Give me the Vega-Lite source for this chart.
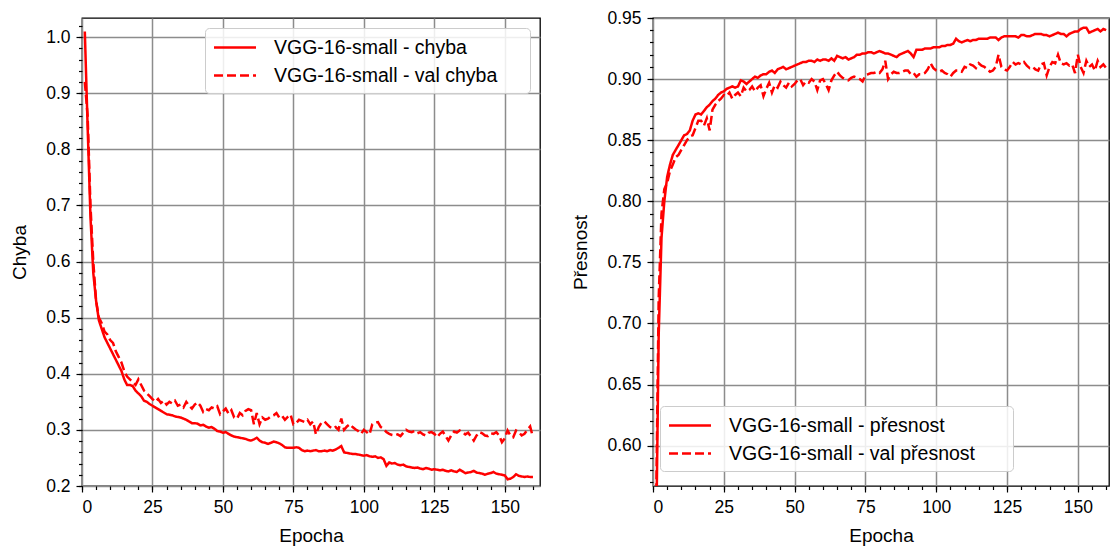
{
"$schema": "https://vega.github.io/schema/vega-lite/v6.json",
"background": "white",
"padding": {"left": 10, "top": 8, "right": 2, "bottom": 0},
"datasets": {"h": [
{"e":1,"c":1.01,"vc":0.92,"p":0.5,"vp":0.53},
{"e":2,"c":0.84,"vc":0.86,"p":0.69,"vp":0.72},
{"e":3,"c":0.68,"vc":0.7,"p":0.77,"vp":0.79},
{"e":4,"c":0.58,"vc":0.6,"p":0.8,"vp":0.81},
{"e":5,"c":0.53,"vc":0.53,"p":0.82,"vp":0.815},
{"e":6,"c":0.495,"vc":0.5,"p":0.83,"vp":0.825},
{"e":7,"c":0.48,"vc":0.49,"p":0.838,"vp":0.83},
{"e":8,"c":0.465,"vc":0.475,"p":0.842,"vp":0.836},
{"e":9,"c":0.455,"vc":0.47,"p":0.846,"vp":0.838},
{"e":10,"c":0.445,"vc":0.46,"p":0.85,"vp":0.842},
{"e":11,"c":0.435,"vc":0.455,"p":0.854,"vp":0.846},
{"e":12,"c":0.425,"vc":0.44,"p":0.855,"vp":0.85},
{"e":13,"c":0.415,"vc":0.43,"p":0.858,"vp":0.853},
{"e":14,"c":0.405,"vc":0.42,"p":0.866,"vp":0.854},
{"e":15,"c":0.39,"vc":0.405,"p":0.871,"vp":0.86},
{"e":16,"c":0.38,"vc":0.395,"p":0.872,"vp":0.866},
{"e":17,"c":0.38,"vc":0.39,"p":0.871,"vp":0.866},
{"e":18,"c":0.378,"vc":0.385,"p":0.874,"vp":0.862},
{"e":19,"c":0.37,"vc":0.38,"p":0.877,"vp":0.868},
{"e":20,"c":0.365,"vc":0.39,"p":0.879,"vp":0.858},
{"e":21,"c":0.36,"vc":0.38,"p":0.882,"vp":0.875},
{"e":22,"c":0.352,"vc":0.37,"p":0.884,"vp":0.879},
{"e":23,"c":0.35,"vc":0.365,"p":0.887,"vp":0.882},
{"e":24,"c":0.346,"vc":0.36,"p":0.889,"vp":0.884},
{"e":25,"c":0.343,"vc":0.355,"p":0.89,"vp":0.887},
{"e":26,"c":0.34,"vc":0.35,"p":0.892,"vp":0.886},
{"e":27,"c":0.337,"vc":0.355,"p":0.893,"vp":0.889},
{"e":28,"c":0.334,"vc":0.348,"p":0.894,"vp":0.884},
{"e":29,"c":0.331,"vc":0.352,"p":0.893,"vp":0.887},
{"e":30,"c":0.328,"vc":0.345,"p":0.894,"vp":0.889},
{"e":31,"c":0.327,"vc":0.35,"p":0.899,"vp":0.886},
{"e":32,"c":0.326,"vc":0.347,"p":0.898,"vp":0.893},
{"e":33,"c":0.324,"vc":0.352,"p":0.896,"vp":0.89},
{"e":34,"c":0.323,"vc":0.343,"p":0.898,"vp":0.891},
{"e":35,"c":0.322,"vc":0.345,"p":0.9,"vp":0.894},
{"e":36,"c":0.32,"vc":0.34,"p":0.902,"vp":0.89},
{"e":37,"c":0.318,"vc":0.35,"p":0.901,"vp":0.893},
{"e":38,"c":0.315,"vc":0.343,"p":0.903,"vp":0.895},
{"e":39,"c":0.312,"vc":0.338,"p":0.904,"vp":0.886},
{"e":40,"c":0.312,"vc":0.345,"p":0.904,"vp":0.892},
{"e":41,"c":0.311,"vc":0.349,"p":0.906,"vp":0.897},
{"e":42,"c":0.308,"vc":0.343,"p":0.907,"vp":0.889},
{"e":43,"c":0.309,"vc":0.332,"p":0.905,"vp":0.895},
{"e":44,"c":0.306,"vc":0.337,"p":0.908,"vp":0.893},
{"e":45,"c":0.304,"vc":0.335,"p":0.909,"vp":0.898},
{"e":46,"c":0.305,"vc":0.34,"p":0.91,"vp":0.895},
{"e":47,"c":0.302,"vc":0.338,"p":0.908,"vp":0.893},
{"e":48,"c":0.298,"vc":0.342,"p":0.909,"vp":0.897},
{"e":49,"c":0.297,"vc":0.328,"p":0.91,"vp":0.894},
{"e":50,"c":0.295,"vc":0.333,"p":0.911,"vp":0.896},
{"e":51,"c":0.296,"vc":0.338,"p":0.912,"vp":0.899},
{"e":52,"c":0.293,"vc":0.329,"p":0.913,"vp":0.9},
{"e":53,"c":0.29,"vc":0.335,"p":0.914,"vp":0.895},
{"e":54,"c":0.288,"vc":0.322,"p":0.914,"vp":0.898},
{"e":55,"c":0.287,"vc":0.32,"p":0.915,"vp":0.897},
{"e":56,"c":0.286,"vc":0.33,"p":0.915,"vp":0.9},
{"e":57,"c":0.285,"vc":0.326,"p":0.914,"vp":0.898},
{"e":58,"c":0.284,"vc":0.334,"p":0.916,"vp":0.891},
{"e":59,"c":0.282,"vc":0.337,"p":0.915,"vp":0.899},
{"e":60,"c":0.281,"vc":0.335,"p":0.916,"vp":0.9},
{"e":61,"c":0.283,"vc":0.31,"p":0.916,"vp":0.896},
{"e":62,"c":0.286,"vc":0.33,"p":0.915,"vp":0.891},
{"e":63,"c":0.281,"vc":0.31,"p":0.917,"vp":0.899},
{"e":64,"c":0.278,"vc":0.322,"p":0.915,"vp":0.903},
{"e":65,"c":0.277,"vc":0.318,"p":0.919,"vp":0.906},
{"e":66,"c":0.275,"vc":0.32,"p":0.918,"vp":0.903},
{"e":67,"c":0.277,"vc":0.324,"p":0.917,"vp":0.901},
{"e":68,"c":0.279,"vc":0.326,"p":0.918,"vp":0.9},
{"e":69,"c":0.278,"vc":0.33,"p":0.916,"vp":0.899},
{"e":70,"c":0.276,"vc":0.322,"p":0.917,"vp":0.901},
{"e":71,"c":0.273,"vc":0.325,"p":0.918,"vp":0.902},
{"e":72,"c":0.269,"vc":0.318,"p":0.92,"vp":0.901},
{"e":73,"c":0.268,"vc":0.323,"p":0.92,"vp":0.9},
{"e":74,"c":0.268,"vc":0.327,"p":0.921,"vp":0.898},
{"e":75,"c":0.268,"vc":0.31,"p":0.921,"vp":0.903},
{"e":76,"c":0.269,"vc":0.312,"p":0.922,"vp":0.904},
{"e":77,"c":0.268,"vc":0.318,"p":0.922,"vp":0.905},
{"e":78,"c":0.264,"vc":0.316,"p":0.921,"vp":0.905},
{"e":79,"c":0.262,"vc":0.314,"p":0.922,"vp":0.906},
{"e":80,"c":0.263,"vc":0.318,"p":0.923,"vp":0.905},
{"e":81,"c":0.262,"vc":0.31,"p":0.922,"vp":0.908},
{"e":82,"c":0.263,"vc":0.315,"p":0.921,"vp":0.915},
{"e":83,"c":0.264,"vc":0.292,"p":0.921,"vp":0.9},
{"e":84,"c":0.262,"vc":0.305,"p":0.92,"vp":0.904},
{"e":85,"c":0.262,"vc":0.313,"p":0.919,"vp":0.906},
{"e":86,"c":0.263,"vc":0.315,"p":0.918,"vp":0.905},
{"e":87,"c":0.262,"vc":0.31,"p":0.92,"vp":0.905},
{"e":88,"c":0.264,"vc":0.305,"p":0.921,"vp":0.906},
{"e":89,"c":0.263,"vc":0.302,"p":0.922,"vp":0.907},
{"e":90,"c":0.265,"vc":0.305,"p":0.923,"vp":0.907},
{"e":91,"c":0.268,"vc":0.3,"p":0.921,"vp":0.904},
{"e":92,"c":0.271,"vc":0.32,"p":0.918,"vp":0.905},
{"e":93,"c":0.26,"vc":0.3,"p":0.924,"vp":0.902},
{"e":94,"c":0.259,"vc":0.306,"p":0.924,"vp":0.904},
{"e":95,"c":0.258,"vc":0.31,"p":0.924,"vp":0.904},
{"e":96,"c":0.257,"vc":0.305,"p":0.925,"vp":0.905},
{"e":97,"c":0.257,"vc":0.301,"p":0.925,"vp":0.908},
{"e":98,"c":0.256,"vc":0.298,"p":0.925,"vp":0.913},
{"e":99,"c":0.255,"vc":0.293,"p":0.926,"vp":0.909},
{"e":100,"c":0.254,"vc":0.3,"p":0.926,"vp":0.907},
{"e":101,"c":0.255,"vc":0.296,"p":0.926,"vp":0.906},
{"e":102,"c":0.253,"vc":0.292,"p":0.927,"vp":0.907},
{"e":103,"c":0.252,"vc":0.31,"p":0.927,"vp":0.905},
{"e":104,"c":0.253,"vc":0.313,"p":0.928,"vp":0.904},
{"e":105,"c":0.25,"vc":0.314,"p":0.928,"vp":0.902},
{"e":106,"c":0.251,"vc":0.305,"p":0.929,"vp":0.905},
{"e":107,"c":0.248,"vc":0.302,"p":0.933,"vp":0.907},
{"e":108,"c":0.236,"vc":0.296,"p":0.931,"vp":0.907},
{"e":109,"c":0.242,"vc":0.293,"p":0.93,"vp":0.906},
{"e":110,"c":0.24,"vc":0.291,"p":0.931,"vp":0.91},
{"e":111,"c":0.241,"vc":0.29,"p":0.932,"vp":0.909},
{"e":112,"c":0.238,"vc":0.292,"p":0.931,"vp":0.912},
{"e":113,"c":0.237,"vc":0.289,"p":0.932,"vp":0.911},
{"e":114,"c":0.238,"vc":0.295,"p":0.932,"vp":0.909},
{"e":115,"c":0.235,"vc":0.3,"p":0.933,"vp":0.913},
{"e":116,"c":0.234,"vc":0.297,"p":0.933,"vp":0.911},
{"e":117,"c":0.233,"vc":0.296,"p":0.933,"vp":0.91},
{"e":118,"c":0.232,"vc":0.298,"p":0.933,"vp":0.908},
{"e":119,"c":0.233,"vc":0.294,"p":0.934,"vp":0.906},
{"e":120,"c":0.231,"vc":0.296,"p":0.934,"vp":0.907},
{"e":121,"c":0.23,"vc":0.292,"p":0.934,"vp":0.91},
{"e":122,"c":0.232,"vc":0.29,"p":0.932,"vp":0.92},
{"e":123,"c":0.231,"vc":0.295,"p":0.934,"vp":0.91},
{"e":124,"c":0.229,"vc":0.296,"p":0.935,"vp":0.908},
{"e":125,"c":0.23,"vc":0.293,"p":0.935,"vp":0.907},
{"e":126,"c":0.229,"vc":0.287,"p":0.935,"vp":0.91},
{"e":127,"c":0.228,"vc":0.293,"p":0.935,"vp":0.914},
{"e":128,"c":0.229,"vc":0.297,"p":0.935,"vp":0.912},
{"e":129,"c":0.227,"vc":0.289,"p":0.934,"vp":0.913},
{"e":130,"c":0.226,"vc":0.281,"p":0.936,"vp":0.912},
{"e":131,"c":0.228,"vc":0.29,"p":0.936,"vp":0.914},
{"e":132,"c":0.226,"vc":0.297,"p":0.935,"vp":0.911},
{"e":133,"c":0.225,"vc":0.295,"p":0.935,"vp":0.909},
{"e":134,"c":0.229,"vc":0.299,"p":0.936,"vp":0.91},
{"e":135,"c":0.226,"vc":0.296,"p":0.937,"vp":0.908},
{"e":136,"c":0.223,"vc":0.292,"p":0.937,"vp":0.907},
{"e":137,"c":0.224,"vc":0.295,"p":0.937,"vp":0.912},
{"e":138,"c":0.225,"vc":0.288,"p":0.936,"vp":0.913},
{"e":139,"c":0.227,"vc":0.281,"p":0.936,"vp":0.903},
{"e":140,"c":0.224,"vc":0.29,"p":0.935,"vp":0.91},
{"e":141,"c":0.223,"vc":0.296,"p":0.936,"vp":0.914},
{"e":142,"c":0.222,"vc":0.294,"p":0.937,"vp":0.913},
{"e":143,"c":0.22,"vc":0.29,"p":0.938,"vp":0.92},
{"e":144,"c":0.222,"vc":0.289,"p":0.937,"vp":0.913},
{"e":145,"c":0.223,"vc":0.294,"p":0.937,"vp":0.912},
{"e":146,"c":0.225,"vc":0.293,"p":0.935,"vp":0.913},
{"e":147,"c":0.222,"vc":0.296,"p":0.937,"vp":0.911},
{"e":148,"c":0.221,"vc":0.29,"p":0.938,"vp":0.912},
{"e":149,"c":0.22,"vc":0.278,"p":0.939,"vp":0.905},
{"e":150,"c":0.219,"vc":0.285,"p":0.939,"vp":0.92},
{"e":151,"c":0.212,"vc":0.299,"p":0.941,"vp":0.91},
{"e":152,"c":0.213,"vc":0.29,"p":0.942,"vp":0.905},
{"e":153,"c":0.216,"vc":0.287,"p":0.942,"vp":0.915},
{"e":154,"c":0.221,"vc":0.299,"p":0.938,"vp":0.91},
{"e":155,"c":0.218,"vc":0.296,"p":0.939,"vp":0.912},
{"e":156,"c":0.217,"vc":0.29,"p":0.94,"vp":0.907},
{"e":157,"c":0.216,"vc":0.293,"p":0.941,"vp":0.915},
{"e":158,"c":0.217,"vc":0.3,"p":0.939,"vp":0.91},
{"e":159,"c":0.216,"vc":0.306,"p":0.941,"vp":0.912},
{"e":160,"c":0.216,"vc":0.287,"p":0.94,"vp":0.909}
]},
"config": {
  "font": "Liberation Sans",
  "view": {"stroke": "black", "strokeWidth": 1.3},
  "concat": {"spacing": 30},
  "axis": {"domain": false, "labelFont": "Liberation Sans", "labelFontSize": 17.5, "labelColor": "black", "titleFont": "Liberation Sans", "titleFontSize": 19, "titleFontWeight": "normal", "titleColor": "black", "tickColor": "black", "tickWidth": 1.2, "gridColor": "#8c8c8c", "gridWidth": 1.5, "gridOpacity": 1},
  "legend": {"orient": "none", "fillColor": "rgba(255,255,255,0.85)", "strokeColor": "#cccccc", "cornerRadius": 4, "padding": 7.5, "symbolType": "M-1,0H3", "symbolSize": 441, "symbolStrokeWidth": 2.5, "symbolStrokeColor": "#ff0000", "symbolFillColor": "transparent", "labelFont": "Liberation Sans", "labelFontSize": 19.5, "labelColor": "black", "labelOffset": 37.5, "labelLimit": 600, "rowPadding": 6, "titleOrient": "right", "titleFontSize": 2, "titleColor": "white"}
},
"resolve": {"scale": {"strokeDash": "independent"}, "legend": {"strokeDash": "independent"}},
"hconcat": [
 {
  "width": 458, "height": 468,
  "data": {"name": "h"},
  "transform": [{"fold": ["c", "vc"], "as": ["serie", "hodnota"]}],
  "layer": [
   {"mark": {"type": "line", "color": "#ff0000", "strokeWidth": 2.5, "clip": true},
    "encoding": {
     "x": {"field": "e", "type": "quantitative", "scale": {"domain": [0, 162.5], "nice": false, "zero": false},
           "axis": {"orient": "bottom", "title": "Epocha", "values": [0,25,50,75,100,125,150], "grid": true, "tickSize": 6, "labelPadding": 6, "titlePadding": 11}},
     "y": {"field": "hodnota", "type": "quantitative", "scale": {"domain": [0.2, 1.034], "nice": false, "zero": false},
           "axis": {"orient": "left", "title": "Chyba", "values": [0.2,0.3,0.4,0.5,0.6,0.7,0.8,0.9,1.0], "format": ".1f", "grid": true, "tickSize": 6, "labelPadding": 6, "titlePadding": 16}},
     "strokeDash": {"field": "serie", "type": "nominal", "scale": {"domain": ["c", "vc"], "range": [[1,0],[9,4]]},
           "legend": {"legendX": 123, "legendY": 10, "title": ".", "titlePadding": 24, "labelExpr": "datum.label == 'c' ? 'VGG-16-small - chyba' : 'VGG-16-small - val chyba'"}}
    }},
   {"mark": {"type": "line", "opacity": 0},
    "encoding": {
     "x": {"field": "e", "type": "quantitative", "axis": {"orient": "bottom", "title": null, "labels": false, "grid": false, "tickSize": 3.5, "values": [0,5,10,15,20,25,30,35,40,45,50,55,60,65,70,75,80,85,90,95,100,105,110,115,120,125,130,135,140,145,150,155,160]}},
     "y": {"field": "hodnota", "type": "quantitative", "axis": {"orient": "left", "title": null, "labels": false, "grid": false, "tickSize": 3.5, "values": [0.2,0.22,0.24,0.26,0.28,0.3,0.32,0.34,0.36,0.38,0.4,0.42,0.44,0.46,0.48,0.5,0.52,0.54,0.56,0.58,0.6,0.62,0.64,0.66,0.68,0.7,0.72,0.74,0.76,0.78,0.8,0.82,0.84,0.86,0.88,0.9,0.92,0.94,0.96,0.98,1.0,1.02]}},
     "detail": {"field": "serie", "type": "nominal"}
    }}
  ],
  "resolve": {"axis": {"x": "independent", "y": "independent"}}
 },
 {
  "width": 456, "height": 468,
  "data": {"name": "h"},
  "transform": [{"fold": ["p", "vp"], "as": ["serie", "hodnota"]}],
  "layer": [
   {"mark": {"type": "line", "color": "#ff0000", "strokeWidth": 2.5, "clip": true},
    "encoding": {
     "x": {"field": "e", "type": "quantitative", "scale": {"domain": [0, 161], "nice": false, "zero": false},
           "axis": {"orient": "bottom", "title": "Epocha", "values": [0,25,50,75,100,125,150], "grid": true, "tickSize": 6, "labelPadding": 6, "titlePadding": 11}},
     "y": {"field": "hodnota", "type": "quantitative", "scale": {"domain": [0.567, 0.95], "nice": false, "zero": false},
           "axis": {"orient": "left", "title": "Přesnost", "values": [0.6,0.65,0.7,0.75,0.8,0.85,0.9,0.95], "format": ".2f", "grid": true, "tickSize": 6, "labelPadding": 6, "titlePadding": 16}},
     "strokeDash": {"field": "serie", "type": "nominal", "scale": {"domain": ["p", "vp"], "range": [[1,0],[9,4]]},
           "legend": {"legendX": 7, "legendY": 388, "title": ".", "titlePadding": 30, "labelExpr": "datum.label == 'p' ? 'VGG-16-small - přesnost' : 'VGG-16-small - val přesnost'"}}
    }},
   {"mark": {"type": "line", "opacity": 0},
    "encoding": {
     "x": {"field": "e", "type": "quantitative", "axis": {"orient": "bottom", "title": null, "labels": false, "grid": false, "tickSize": 3.5, "values": [0,5,10,15,20,25,30,35,40,45,50,55,60,65,70,75,80,85,90,95,100,105,110,115,120,125,130,135,140,145,150,155,160]}},
     "y": {"field": "hodnota", "type": "quantitative", "axis": {"orient": "left", "title": null, "labels": false, "grid": false, "tickSize": 3.5, "values": [0.57,0.58,0.59,0.6,0.61,0.62,0.63,0.64,0.65,0.66,0.67,0.68,0.69,0.7,0.71,0.72,0.73,0.74,0.75,0.76,0.77,0.78,0.79,0.8,0.81,0.82,0.83,0.84,0.85,0.86,0.87,0.88,0.89,0.9,0.91,0.92,0.93,0.94,0.95]}},
     "detail": {"field": "serie", "type": "nominal"}
    }}
  ],
  "resolve": {"axis": {"x": "independent", "y": "independent"}}
 }
]
}
